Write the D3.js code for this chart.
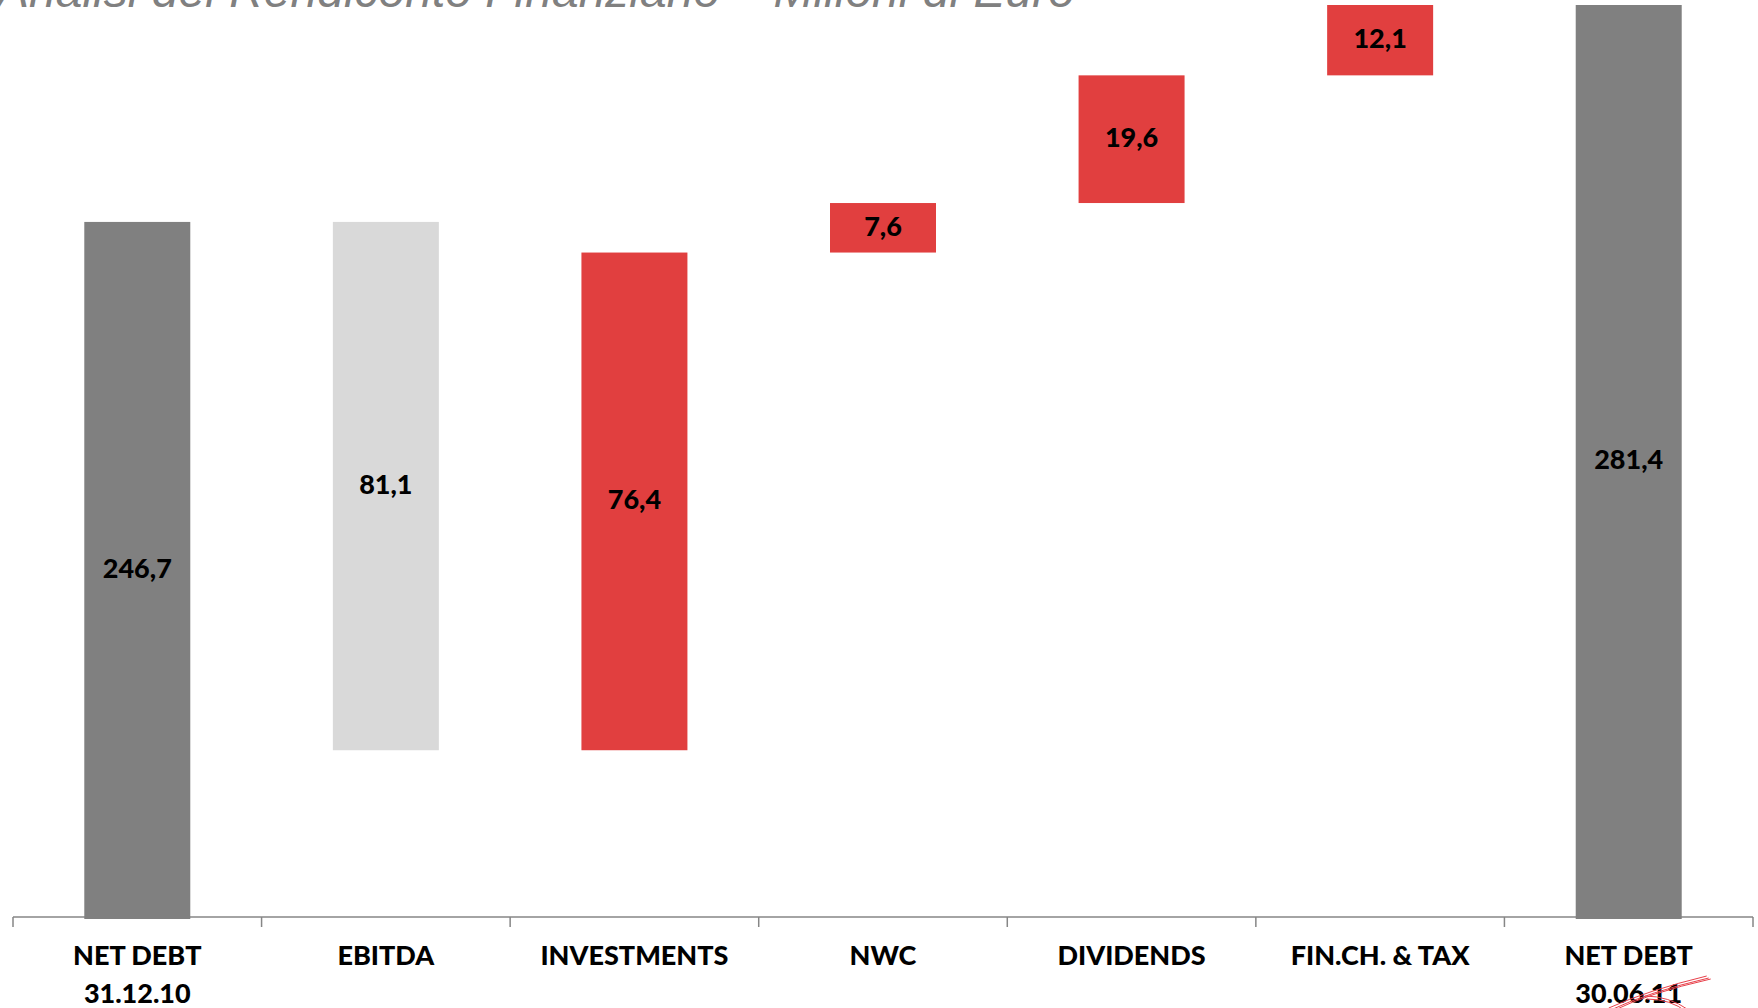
<!DOCTYPE html>
<html>
<head>
<meta charset="utf-8">
<script src="https://cdn.jsdelivr.net/npm/d3@7"></script>
<style>
  html, body { margin: 0; padding: 0; background: #ffffff; }
  svg { display: block; }
</style>
</head>
<body>
<svg id="chart" width="1758" height="1008"></svg>
<script>
// ---- data ----
const titleText = "Analisi del Rendiconto Finanziario \u2013 Milioni di Euro";
const categories = ["NET DEBT\n31.12.10", "EBITDA", "INVESTMENTS", "NWC", "DIVIDENDS", "FIN.CH. & TAX", "NET DEBT\n30.06.11"];
const values = [246.7, -81.1, 76.4, 7.6, 19.6, 12.1, 281.4];
const kinds = ["total", "decrease", "increase", "increase", "increase", "increase", "total"];
const yDomain = [140, 280];
const colors = { total: "#808080", decrease: "#d9d9d9", increase: "#e13f3f" };

// ---- layout ----
const W = 1758, H = 1008;
const plot = { left: 13, right: 1753, top: 5, bottom: 917 };
const labelFont = "Lato, 'Open Sans', sans-serif";
const labelWeight = 900;

const svg = d3.select("#chart");

const x = d3.scaleBand()
  .domain(categories)
  .range([plot.left, plot.right])
  .paddingInner(0.5736)
  .paddingOuter(0.5736 / 2);

const y = d3.scaleLinear().domain(yDomain).range([plot.bottom, plot.top]);

// build waterfall segments
let running = 0;
const segs = categories.map((c, i) => {
  const v = values[i];
  let lo, hi;
  if (kinds[i] === "total") { lo = 0; hi = v; running = v; }
  else { const s = running; running = s + v; lo = Math.min(s, running); hi = Math.max(s, running); }
  return { cat: c, v, kind: kinds[i], lo, hi };
});

// title (partially cut off at top, as in reference)
svg.append("text")
  .attr("x", -3)
  .attr("y", 7)
  .attr("font-family", "'Liberation Sans', Arial, sans-serif")
  .attr("font-style", "italic")
  .attr("font-size", 48)
  .attr("fill", "#808080")
  .text(titleText);

// axis
const axisG = svg.append("g").attr("transform", `translate(0,${plot.bottom})`);
axisG.append("line")
  .attr("x1", plot.left).attr("x2", plot.right)
  .attr("y1", 0).attr("y2", 0)
  .attr("stroke", "#868686").attr("stroke-width", 1.5);
const tickXs = categories.map(c => x(c) - x.step() * x.paddingInner() / 2);
tickXs.push(plot.right);
axisG.selectAll("line.tick").data(tickXs).join("line")
  .attr("class", "tick")
  .attr("x1", d => d).attr("x2", d => d)
  .attr("y1", 0).attr("y2", 10)
  .attr("stroke", "#868686").attr("stroke-width", 1.5);

// clip
svg.append("clipPath").attr("id", "plotclip")
  .append("rect")
  .attr("x", 0).attr("y", plot.top)
  .attr("width", W).attr("height", plot.bottom - plot.top + 2);

const barsG = svg.append("g").attr("clip-path", "url(#plotclip)");
barsG.selectAll("rect.bar").data(segs).join("rect")
  .attr("class", "bar")
  .attr("x", d => x(d.cat))
  .attr("width", x.bandwidth())
  .attr("y", d => y(d.hi))
  .attr("height", d => Math.max(0, y(d.lo) - y(d.hi)) + (d.kind === "total" ? 1 : 0))
  .attr("fill", d => colors[d.kind]);

// value labels centred in visible bar
const fmt = v => Math.abs(v).toFixed(1).replace(".", ",");
svg.selectAll("text.val").data(segs).join("text")
  .attr("class", "val")
  .attr("x", d => x(d.cat) + x.bandwidth() / 2)
  .attr("y", d => {
    const top = Math.max(plot.top, y(d.hi));
    const bot = Math.min(plot.bottom, y(d.lo));
    return (top + bot) / 2;
  })
  .attr("dy", "0.3em")
  .attr("text-anchor", "middle")
  .attr("font-family", labelFont)
  .attr("font-weight", labelWeight)
  .attr("font-size", 27)
  .attr("fill", "#000")
  .text(d => fmt(d.v));

// category labels
const catG = svg.append("g");
categories.forEach(c => {
  const lines = c.split("\n");
  const t = catG.append("text")
    .attr("text-anchor", "middle")
    .attr("font-family", labelFont)
    .attr("font-weight", labelWeight)
    .attr("font-size", 27)
    .attr("fill", "#000");
  lines.forEach((ln, j) => {
    t.append("tspan")
      .attr("x", x(c) + x.bandwidth() / 2)
      .attr("y", 965 + j * 38)
      .text(ln);
  });
});

// red hand-drawn strike marks near the last date
const scribble = svg.append("g").attr("fill", "none").attr("stroke", "#e8404a").attr("stroke-width", 1);
const last = categories[categories.length - 1];
const cx = x(last) + x.bandwidth() / 2;
[[0, 0], [2, 2], [4, 3]].forEach(([dx, dy]) => {
  scribble.append("path")
    .attr("d", `M${cx - 20 + dx},${1008 + dy} Q${cx + 20},${990 + dy} ${cx + 78 + dx},${976 + dy}`);
});
scribble.append("path").attr("d", `M${cx + 16},${996} Q${cx + 40},${996} ${cx + 60},${1010}`);
scribble.append("path").attr("d", `M${cx + 18},${999} Q${cx + 42},${999} ${cx + 58},${1012}`);
</script>
</body>
</html>
